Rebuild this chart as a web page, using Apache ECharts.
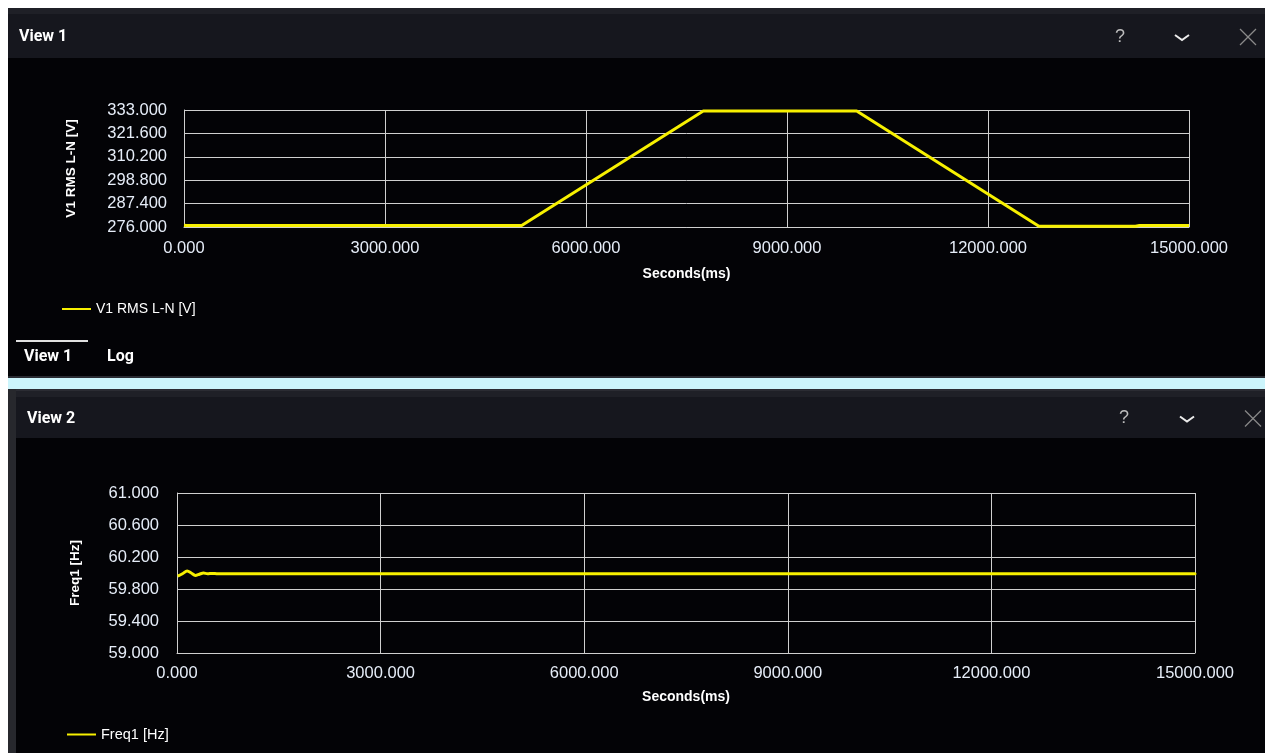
<!DOCTYPE html>
<html>
<head>
<meta charset="utf-8">
<script src="https://cdn.jsdelivr.net/npm/echarts@6/dist/echarts.min.js"></script>
<style>
html,body{margin:0;padding:0;background:#fff;}
#c{width:1265px;height:753px;}
</style>
</head>
<body>
<div id="c"></div>
<script>
// ---- data ----
var v1Name = 'V1 RMS L-N [V]';
var v1Times = [0, 40, 5040, 7750, 10040, 12760, 14200, 14260, 15000];
var v1Values = [276.9, 276.7, 276.7, 332.5, 332.5, 276.4, 276.4, 276.7, 276.7];

var f1Name = 'Freq1 [Hz]';
var f1Times = [10, 80, 150, 210, 270, 330, 390, 450, 520, 600, 15000];
var f1Values = [59.96, 59.99, 60.025, 60.0, 59.97, 59.985, 60.0, 59.99, 59.995, 59.99, 59.99];

var xMin = 0, xMax = 15000, xStep = 3000;
var v1Min = 276, v1Max = 333, v1Step = 11.4;
var f1Min = 59, f1Max = 61, f1Step = 0.4;
var xAxisName = 'Seconds(ms)';
var tabLabels = ['View 1', 'Log'];
var panelTitles = ['View 1', 'View 2'];

function pairs(xs, ys) { return xs.map(function (x, i) { return [x, ys[i]]; }); }

var FONT = '"Liberation Sans", Arial, sans-serif';
var LBL = '#e6edf8';
var GRIDC = '#cfcfcf';
var YEL = '#f7f000';

function xAxisCfg(gridIndex, gap, margin) {
  return {
    type: 'value', gridIndex: gridIndex, min: xMin, max: xMax, interval: xStep,
    name: xAxisName, nameLocation: 'middle', nameGap: gap,
    nameTextStyle: { color: '#ffffff', fontFamily: FONT, fontWeight: 'bold', fontSize: 14 },
    axisLine: { show: true, lineStyle: { color: GRIDC, width: 1 } },
    axisTick: { show: false },
    axisLabel: { color: LBL, fontFamily: FONT, fontSize: 16.5, margin: margin,
      formatter: function (v) { return v.toFixed(3); } },
    splitLine: { show: true, lineStyle: { color: GRIDC, width: 1 } }
  };
}
function yAxisCfg(gridIndex, name, mn, mx, step, gap, margin, nameSize) {
  return {
    type: 'value', gridIndex: gridIndex, min: mn, max: mx, interval: step,
    name: name, nameLocation: 'middle', nameGap: gap,
    nameTextStyle: { color: '#ffffff', fontFamily: FONT, fontWeight: 'bold', fontSize: nameSize },
    axisLine: { show: true, lineStyle: { color: GRIDC, width: 1 } },
    axisTick: { show: false },
    axisLabel: { color: LBL, fontFamily: FONT, fontSize: 16.5, margin: margin,
      formatter: function (v) { return v.toFixed(3); } },
    splitLine: { show: true, lineStyle: { color: GRIDC, width: 1 } }
  };
}

function headerGraphics(y0, y1, x0, title, qx, cx, xx) {
  var cy = (y0 + y1) / 2 + 4;
  return [
    { type: 'rect', shape: { x: x0, y: y0, width: 1265 - x0, height: y1 - y0 }, style: { fill: '#16171e' }, z: -10 },
    { type: 'rect', shape: { x: x0, y: y0, width: 1265 - x0, height: 6 }, style: { fill: '#1f2027' }, z: -9 },
    { type: 'text', x: x0 + 11, y: cy, style: { text: title, fill: '#ffffff', font: 'bold 16px Roboto, "Liberation Sans", sans-serif', verticalAlign: 'middle' }, z: 5 },
    { type: 'text', x: qx, y: cy, style: { text: '?', fill: '#bdbdbd', font: '18px "Liberation Sans", sans-serif', align: 'center', verticalAlign: 'middle' }, z: 5 },
    { type: 'polyline', shape: { points: [[cx - 7, cy - 2], [cx, cy + 3], [cx + 7, cy - 2]] }, style: { stroke: '#ececec', lineWidth: 2, fill: null }, z: 5 },
    { type: 'line', shape: { x1: xx - 8, y1: cy - 8, x2: xx + 8, y2: cy + 8 }, style: { stroke: '#8a8a8a', lineWidth: 1.2 }, z: 5 },
    { type: 'line', shape: { x1: xx + 8, y1: cy - 8, x2: xx - 8, y2: cy + 8 }, style: { stroke: '#8a8a8a', lineWidth: 1.2 }, z: 5 }
  ];
}

var graphics = [
  // panel 1 body
  { type: 'rect', shape: { x: 8, y: 8, width: 1257, height: 369 }, style: { fill: '#030306' }, z: -11 },
  // separator
  { type: 'rect', shape: { x: 8, y: 376, width: 1257, height: 2 }, style: { fill: '#2a2c33' }, z: -11 },
  { type: 'rect', shape: { x: 8, y: 378, width: 1257, height: 11 }, style: { fill: '#ccf5fc' }, z: -11 },
  // panel 2 body + left border
  { type: 'rect', shape: { x: 8, y: 389, width: 8, height: 364 }, style: { fill: '#27282d' }, z: -11 },
  { type: 'rect', shape: { x: 16, y: 389, width: 1249, height: 364 }, style: { fill: '#030306' }, z: -11 },
  { type: 'rect', shape: { x: 16, y: 389, width: 1249, height: 2 }, style: { fill: '#2b2c33' }, z: -9 },
  // tabs
  { type: 'rect', shape: { x: 16, y: 340, width: 72, height: 2 }, style: { fill: '#e0e0e0' }, z: 5 },
  { type: 'text', x: 24, y: 357, style: { text: tabLabels[0], fill: '#ffffff', font: 'bold 16px Roboto, "Liberation Sans", sans-serif', verticalAlign: 'middle' }, z: 5 },
  { type: 'text', x: 107, y: 357, style: { text: tabLabels[1], fill: '#ffffff', font: 'bold 16px Roboto, "Liberation Sans", sans-serif', verticalAlign: 'middle' }, z: 5 }
].concat(headerGraphics(8, 58, 8, panelTitles[0], 1120, 1182, 1248))
 .concat(headerGraphics(391, 438, 16, panelTitles[1], 1124, 1187, 1253));

var option = {
  animation: false,
  backgroundColor: '#ffffff',
  graphic: { elements: graphics },
  grid: [
    { left: 184, top: 110, width: 1005, height: 117, containLabel: false },
    { left: 177, top: 493, width: 1018, height: 160, containLabel: false }
  ],
  xAxis: [ xAxisCfg(0, 40, 13), xAxisCfg(1, 37, 12) ],
  yAxis: [
    yAxisCfg(0, v1Name, v1Min, v1Max, v1Step, 106, 17, 13.5),
    yAxisCfg(1, f1Name, f1Min, f1Max, f1Step, 95, 18, 13.5)
  ],
  legend: [
    { data: [v1Name], left: 62, top: 302, icon: 'rect', itemWidth: 29, itemHeight: 2, padding: 0,
      textStyle: { color: '#ffffff', fontFamily: FONT, fontSize: 14 } },
    { data: [f1Name], left: 67, top: 727, icon: 'rect', itemWidth: 29, itemHeight: 2, padding: 0,
      textStyle: { color: '#ffffff', fontFamily: FONT, fontSize: 14.5 } }
  ],
  series: [
    { name: v1Name, type: 'line', xAxisIndex: 0, yAxisIndex: 0, data: pairs(v1Times, v1Values),
      showSymbol: false, lineStyle: { color: YEL, width: 3 }, itemStyle: { color: YEL }, z: 3 },
    { name: f1Name, type: 'line', xAxisIndex: 1, yAxisIndex: 1, data: pairs(f1Times, f1Values),
      showSymbol: false, smooth: 0.3, lineStyle: { color: YEL, width: 3 }, itemStyle: { color: YEL }, z: 3 }
  ]
};

var chart = echarts.init(document.getElementById('c'), null, { renderer: 'canvas' });
chart.setOption(option);
</script>
</body>
</html>
